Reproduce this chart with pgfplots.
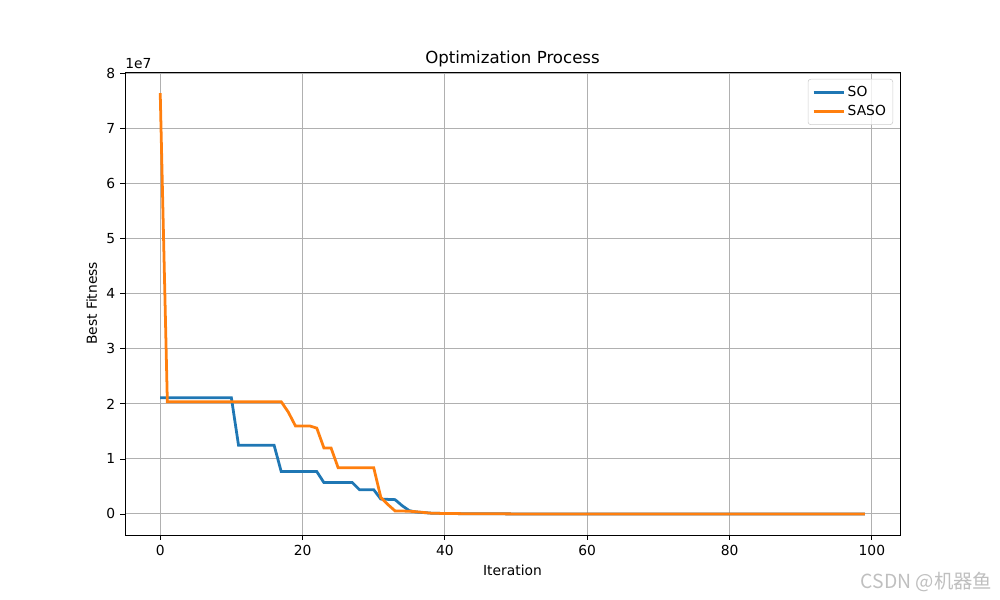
\documentclass[border=0pt]{standalone}
\usepackage{pgfplots}
\pgfplotsset{compat=1.18}
\usepackage{fontspec}
\setmainfont{DejaVu Sans}
\newfontfamily\cjk{Noto Sans CJK SC}
\definecolor{c0}{HTML}{1F77B4}
\definecolor{c1}{HTML}{FF7F0E}
\definecolor{gridc}{HTML}{B0B0B0}
\begin{document}
\begin{tikzpicture}[x=1in,y=1in]
\path (0,0) rectangle (10,6);
\begin{axis}[
  at={(1.25in,0.65in)}, anchor=south west,
  width=7.75in, height=4.63in, scale only axis,
  xmin=-4.95, xmax=103.95, ymin=-0.3825, ymax=8.0325,
  xtick={0,20,40,60,80,100}, ytick={0,1,2,3,4,5,6,7,8},
  /pgf/number format/assume math mode=true,
  tick label style={font=\fontsize{10}{12}\selectfont},
  label style={font=\fontsize{10}{12}\selectfont},
  title style={font=\fontsize{12}{14}\selectfont, yshift=-6pt},
  title={Optimization Process},
  xlabel={Iteration}, ylabel={Best Fitness},
  grid=major, grid style={gridc, line width=0.7pt},
  axis line style={line width=0.6pt},
  tick align=outside, major tick length=3.5pt,
  tick style={black, line width=0.6pt},
  xtick pos=bottom, ytick pos=left,
  clip mode=individual,
  legend cell align=left,
  legend style={at={(1,1)}, anchor=north east, xshift=-5pt, yshift=-5pt,
    draw=black!20, fill=white, fill opacity=0.8, text opacity=1, rounded corners=2pt,
    font=\fontsize{10}{12}\selectfont, row sep=1pt, inner sep=3pt},
  legend image code/.code={\draw[#1] (0cm,0cm) -- (0.3in,0cm);},
]
\addplot[c0, line width=2pt] coordinates {
(0,2.11) (10,2.11) (11,1.25) (16,1.25) (17,0.77) (22,0.77) (23,0.57) (27,0.57)
(28,0.44) (30,0.44) (31,0.27) (33,0.26) (34,0.15) (35,0.06) (36,0.035) (38,0.015)
(40,0.008) (45,0.003) (50,0.001) (60,0.0003) (99,0.0001)};
\addlegendentry{SO}
\addplot[c1, line width=2pt] coordinates {
(0,7.65) (1,2.04) (17,2.04) (18,1.85) (19,1.6) (21,1.6) (22,1.56) (23,1.2) (24,1.2)
(25,0.84) (30,0.84) (31,0.3) (32,0.17) (33,0.055) (35,0.05) (36,0.04) (38,0.015)
(40,0.008) (45,0.003) (50,0.001) (60,0.0003) (99,0.0001)};
\addlegendentry{SASO}
\node[anchor=south west, inner sep=0pt, font=\fontsize{10}{12}\selectfont, yshift=2pt] at (rel axis cs:0,1) {1e7};
\end{axis}
\node[anchor=east, text=black!25, font=\cjk\fontsize{14}{16}\selectfont] at (9.97,0.18) {CSDN @机器鱼};
\end{tikzpicture}
\end{document}
